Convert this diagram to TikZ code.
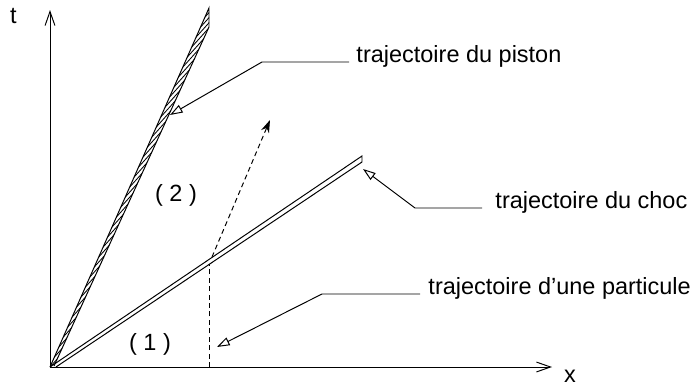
\documentclass[tikz,border=0pt]{standalone}
\usepackage{fontspec}
\setmainfont{Liberation Sans}
\usetikzlibrary{arrows.meta, calc}

\begin{document}
\begin{tikzpicture}[x=0.25mm, y=-0.25mm, line width=0.7pt, font=\fontsize{16.7}{20}\selectfont,
  axisline/.style={-{Straight Barb[length=10pt, width=7pt]}},
  leader/.style={-{Triangle[open, length=9pt, width=6pt]}},
  dashline/.style={dash pattern=on 3.5pt off 2.5pt},
  legend/.style={anchor=base west, inner sep=0pt}]
  \useasboundingbox (0,0) rectangle (696,385);

  % Axes
  \coordinate (O) at (50,367);
  \coordinate (tend) at (50,10);
  \coordinate (xend) at (552,367);
  \draw[axisline] (O) -- (tend);
  \draw[axisline] (O) -- (xend);
  \node (t) at (13.5,16) {t};
  \node (x) at (570,376) {x};

  % Trajectoire du piston (hachuree)
  \coordinate (pa) at (209,8);
  \coordinate (pb) at (209,27);
  \coordinate (pc) at (54,366);
  \begin{scope}
    \clip (O) -- (pa) -- (pb) -- (pc) -- cycle;
    \foreach \k in {0,...,37}
      \draw[line width=0.6pt] ($(O)+(4.43*\k-27, 30-10*\k)$) -- ++(54,-60);
  \end{scope}
  \draw (O) -- (pa) -- (pb) -- (pc);

  % Trajectoire du choc
  \coordinate (sa) at (362,156);
  \coordinate (sb) at (362,162);
  \coordinate (sc) at (56,367);
  \draw (O) -- (sa) -- (sb) -- (sc);

  % Particule
  \coordinate (q0) at (209,367);
  \coordinate (q1) at (209,264);
  \coordinate (q2) at (212,257);
  \coordinate (q3) at (270,120);
  \draw[dashline] (q0) -- (q1);
  \draw[dashline, -{Stealth[length=9pt, width=6pt]}] (q2) -- (q3);

  % Legendes
  \node[legend] (piston) at (356,62) {trajectoire du piston};
  \coordinate (pk) at (262,62);
  \coordinate (pt) at (170,115);
  \draw[leader] ($(piston.base west)+(-7,0)$) -- (pk) -- (pt);

  \node[legend] (choc) at (495,208) {trajectoire du choc};
  \coordinate (ck) at (415,208);
  \coordinate (ct) at (363,169);
  \draw[leader] ($(choc.base west)+(-13,0)$) -- (ck) -- (ct);

  \node[legend] (part) at (428,294) {trajectoire d’une particule};
  \coordinate (rk) at (322,294);
  \coordinate (rt) at (217,347);
  \draw[leader] ($(part.base west)+(-8,0)$) -- (rk) -- (rt);

  \node (zone1) at (150,344) {( 1 )};
  \node (zone2) at (176,195) {( 2 )};
\end{tikzpicture}
\end{document}
